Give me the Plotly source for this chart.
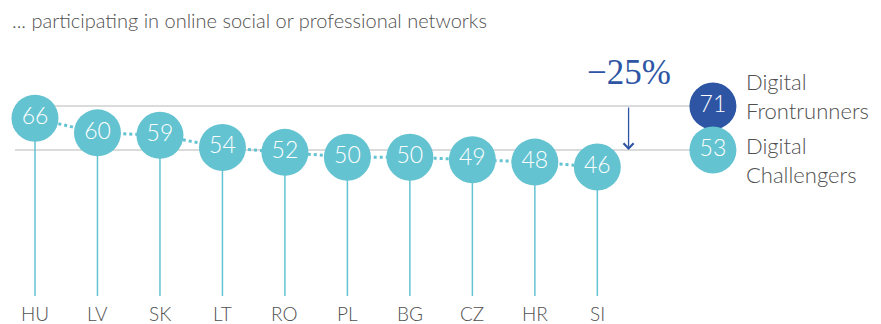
import plotly.graph_objects as go

# Share of people participating in online social or professional networks (%)
countries = ["HU", "LV", "SK", "LT", "RO", "PL", "BG", "CZ", "HR", "SI"]
values = [66, 60, 59, 54, 52, 50, 50, 49, 48, 46]

# Benchmarks
frontrunners = 71
challengers = 53
gap_label = "\u221225%"

TEAL = "#64C3D1"
NAVY = "#2E55A4"
GREY_LINE = "#CFCFCF"
TEXT = "#4F4F4F"
FONT = "Lato"
WEIGHT = 300

xs = list(range(len(countries)))
stem_bottom = -6.9
bench_x = 10.85
arrow_x = 9.5
line_left = -0.32

fig = go.Figure()

# horizontal benchmark lines
for level in (frontrunners, challengers):
    fig.add_trace(go.Scatter(
        x=[line_left, bench_x], y=[level, level], mode="lines",
        line=dict(color=GREY_LINE, width=1.5), hoverinfo="skip", showlegend=False))

# vertical stems
stem_x, stem_y = [], []
for x, v in zip(xs, values):
    stem_x += [x, x, None]
    stem_y += [v, stem_bottom, None]
fig.add_trace(go.Scatter(
    x=stem_x, y=stem_y, mode="lines",
    line=dict(color=TEAL, width=1.5), hoverinfo="skip", showlegend=False))

# dotted connector between countries
fig.add_trace(go.Scatter(
    x=xs, y=values, mode="lines",
    line=dict(color=TEAL, width=3, dash="dot"), hoverinfo="skip", showlegend=False))

bubble_font = dict(family=FONT, size=23, color="white", weight=WEIGHT)

# country bubbles
fig.add_trace(go.Scatter(
    x=xs, y=values, mode="markers+text",
    marker=dict(size=47, color=TEAL, line=dict(width=0)),
    text=[str(v) for v in values], textposition="middle center",
    textfont=bubble_font, hoverinfo="skip", showlegend=False))

# benchmark bubbles
fig.add_trace(go.Scatter(
    x=[bench_x], y=[frontrunners], mode="markers+text",
    marker=dict(size=47, color=NAVY, line=dict(width=0)),
    text=[str(frontrunners)], textposition="middle center",
    textfont=bubble_font, hoverinfo="skip", showlegend=False))
fig.add_trace(go.Scatter(
    x=[bench_x], y=[challengers], mode="markers+text",
    marker=dict(size=47, color=TEAL, line=dict(width=0)),
    text=[str(challengers)], textposition="middle center",
    textfont=bubble_font, hoverinfo="skip", showlegend=False))

annotations = []

# title
annotations.append(dict(
    text="... participating in online social or professional networks",
    xref="paper", yref="paper", x=10 / 881, y=1 - 20 / 324,
    xanchor="left", yanchor="middle", showarrow=False,
    font=dict(family=FONT, size=20, color=TEXT, weight=WEIGHT)))

# country labels
for x, c in zip(xs, countries):
    annotations.append(dict(
        text=c, xref="x", yref="paper", x=x, y=1 - 313 / 324,
        xanchor="center", yanchor="middle", showarrow=False,
        font=dict(family=FONT, size=19, color=TEXT, weight=WEIGHT)))

# benchmark labels
label_font = dict(family=FONT, size=22, color=TEXT, weight=WEIGHT)
annotations.append(dict(
    text="Digital<br>Frontrunners", xref="x", yref="y", x=bench_x + 0.49, y=74.9,
    xanchor="left", yanchor="middle", align="left", showarrow=False,
    font=label_font))
annotations.append(dict(
    text="Digital<br>Challengers", xref="x", yref="y", x=bench_x + 0.49, y=48.7,
    xanchor="left", yanchor="middle", align="left", showarrow=False,
    font=label_font))

# gap arrow
annotations.append(dict(
    x=arrow_x, y=challengers, ax=arrow_x, ay=frontrunners,
    xref="x", yref="y", axref="x", ayref="y", text="",
    showarrow=True, arrowhead=4, arrowsize=1.5, arrowwidth=1.3, arrowcolor=NAVY))
annotations.append(dict(
    text=gap_label, xref="x", yref="paper", x=arrow_x, y=1 - 72 / 324,
    xanchor="center", yanchor="middle", showarrow=False,
    font=dict(family="Liberation Serif", size=35, color=NAVY)))

fig.update_layout(
    width=881, height=324,
    margin=dict(l=0, r=0, t=0, b=0),
    paper_bgcolor="white", plot_bgcolor="white",
    xaxis=dict(range=[-0.560, 13.54], visible=False, fixedrange=True),
    yaxis=dict(range=[-18.34, 114.44], visible=False, fixedrange=True),
    annotations=annotations,
    showlegend=False,
)

fig.write_html("out.html")
